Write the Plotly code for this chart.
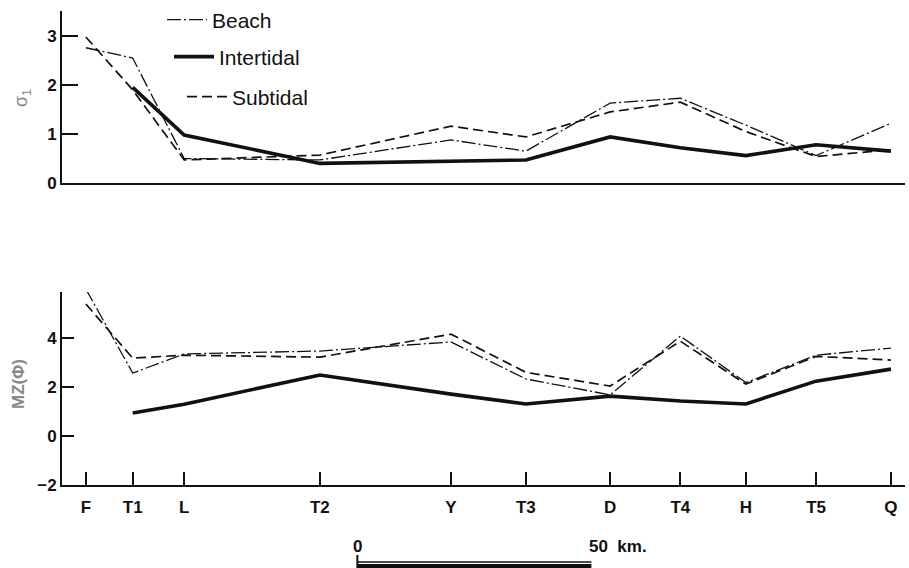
import plotly.graph_objects as go

# ---------------- data ----------------
stations = ["F", "T1", "L", "T2", "Y", "T3", "D", "T4", "H", "T5", "Q"]
distance_km = [0, 10, 21, 50, 78, 94, 112, 127, 141, 156, 172]

sigma_beach = [2.76, 2.55, 0.50, 0.47, 0.88, 0.65, 1.63, 1.73, 1.18, 0.56, 1.22]
sigma_intertidal = [None, 1.95, 0.98, 0.40, 0.44, 0.47, 0.94, 0.72, 0.56, 0.78, 0.65]
sigma_subtidal = [2.98, 1.90, 0.47, 0.57, 1.16, 0.94, 1.45, 1.65, 1.05, 0.54, 0.68]

mz_beach = [6.0, 2.57, 3.35, 3.47, 3.84, 2.33, 1.68, 4.08, 2.18, 3.30, 3.59]
mz_intertidal = [None, 0.94, 1.30, 2.49, 1.71, 1.31, 1.63, 1.43, 1.31, 2.24, 2.73]
mz_subtidal = [5.39, 3.18, 3.30, 3.22, 4.16, 2.60, 2.04, 3.87, 2.12, 3.25, 3.10]

sigma_ticks = [0, 1, 2, 3]
mz_ticks = [-2, 0, 2, 4]
scale_start_km = 58
scale_len_km = 50

# ---------------- styles ----------------
INK = "#111111"
FONT = "Liberation Sans, Arial, Helvetica, sans-serif"
beach_line = dict(color=INK, width=1.3, dash="14px,3px,2px,3px")
inter_line = dict(color=INK, width=3.6)
sub_line = dict(color=INK, width=1.7, dash="10px,5px")

fig = go.Figure()

# top panel
fig.add_trace(go.Scatter(x=distance_km, y=sigma_beach, mode="lines", name="Beach",
                         line=beach_line, legend="legend", xaxis="x", yaxis="y"))
fig.add_trace(go.Scatter(x=distance_km, y=sigma_intertidal, mode="lines", name="Intertidal",
                         line=inter_line, legend="legend2", xaxis="x", yaxis="y"))
fig.add_trace(go.Scatter(x=distance_km, y=sigma_subtidal, mode="lines", name="Subtidal",
                         line=sub_line, legend="legend3", xaxis="x", yaxis="y"))
# bottom panel
fig.add_trace(go.Scatter(x=distance_km, y=mz_beach, mode="lines", name="Beach",
                         line=beach_line, showlegend=False, xaxis="x2", yaxis="y2"))
fig.add_trace(go.Scatter(x=distance_km, y=mz_intertidal, mode="lines", name="Intertidal",
                         line=inter_line, showlegend=False, xaxis="x2", yaxis="y2"))
fig.add_trace(go.Scatter(x=distance_km, y=mz_subtidal, mode="lines", name="Subtidal",
                         line=sub_line, showlegend=False, xaxis="x2", yaxis="y2"))

W, H = 909, 568
L, R, T, B = 62, 4, 11, 83
ph = H - T - B
pw = W - L - R
def px(xp):
    return (xp - L) / pw
def py(yp):
    return (H - B - yp) / ph

xrange = [-5.1, 175]
tickfont = dict(family=FONT, size=17, color=INK, weight="bold")
legfont = dict(family=FONT, size=21, color=INK)

fig.update_layout(
    width=W, height=H,
    margin=dict(l=L, r=R, t=T, b=B, autoexpand=False),
    paper_bgcolor="white", plot_bgcolor="white",
    font=dict(family=FONT, color=INK),
    xaxis=dict(domain=[0, 1], anchor="y", range=xrange, showgrid=False, zeroline=False,
               showline=True, linecolor=INK, linewidth=2, showticklabels=False, ticks=""),
    yaxis=dict(domain=[py(183), 1], anchor="x", range=[0, 3.51], showgrid=False, zeroline=False,
               showline=True, linecolor=INK, linewidth=2, tickvals=sigma_ticks,
               ticks="inside", ticklen=16, tickwidth=2, tickcolor=INK, tickfont=tickfont),
    xaxis2=dict(domain=[0, 1], anchor="y2", range=xrange, showgrid=False, zeroline=False,
                showline=True, linecolor=INK, linewidth=2, tickvals=distance_km,
                ticktext=stations, ticks="inside", ticklen=13, tickwidth=2, tickcolor=INK,
                tickfont=tickfont, ticklabelstandoff=6),
    yaxis2=dict(domain=[0, py(292)], anchor="x2", range=[-2, 5.88], showgrid=False, zeroline=False,
                showline=True, linecolor=INK, linewidth=2, tickvals=mz_ticks,
                ticks="inside", ticklen=12, tickwidth=2, tickcolor=INK, tickfont=tickfont),
    legend=dict(x=px(162), y=py(20), xanchor="left", yanchor="middle", bgcolor="rgba(0,0,0,0)",
                font=legfont, itemwidth=40),
    legend2=dict(x=px(169), y=py(57), xanchor="left", yanchor="middle", bgcolor="rgba(0,0,0,0)",
                 font=legfont, itemwidth=40),
    legend3=dict(x=px(182), y=py(97), xanchor="left", yanchor="middle", bgcolor="rgba(0,0,0,0)",
                 font=legfont, itemwidth=40),
)

# axis titles
fig.add_annotation(text="σ<sub>1</sub>", x=px(23), y=py(98), xref="paper", yref="paper",
                   xanchor="center", yanchor="middle",
                   textangle=-90, showarrow=False, font=dict(family=FONT, size=18, color="#888888"))
fig.add_annotation(text="MZ(Φ)", x=px(18), y=py(384), xref="paper", yref="paper",
                   xanchor="center", yanchor="middle",
                   textangle=-90, showarrow=False,
                   font=dict(family=FONT, size=17, color="#888888", weight="bold"))

# scale bar (in km on the shared distance axis)
s0, s1 = scale_start_km, scale_start_km + scale_len_km
fig.add_shape(type="line", xref="x2", yref="paper", x0=s0, x1=s1, y0=py(562), y1=py(562),
              line=dict(color=INK, width=1.5))
fig.add_shape(type="rect", xref="x2", yref="paper", x0=s0, x1=s1, y0=py(564), y1=py(569),
              fillcolor=INK, line=dict(width=0))
fig.add_shape(type="line", xref="x2", yref="paper", x0=s0, x1=s0, y0=py(555), y1=py(568),
              line=dict(color=INK, width=2))
fig.add_annotation(text="0", x=s0, y=py(546), xref="x2", yref="paper", showarrow=False,
                   xanchor="center", yanchor="middle",
                   font=dict(family=FONT, size=17, color=INK, weight="bold"))
fig.add_annotation(text="50  km.", x=s1 - 1, y=py(546), xref="x2", yref="paper", showarrow=False,
                   xanchor="left", yanchor="middle",
                   font=dict(family=FONT, size=17, color=INK, weight="bold"))

fig.write_html("out.html", config={"displayModeBar": False},
               post_script="document.body.style.margin='0';document.body.style.overflow='hidden';")
